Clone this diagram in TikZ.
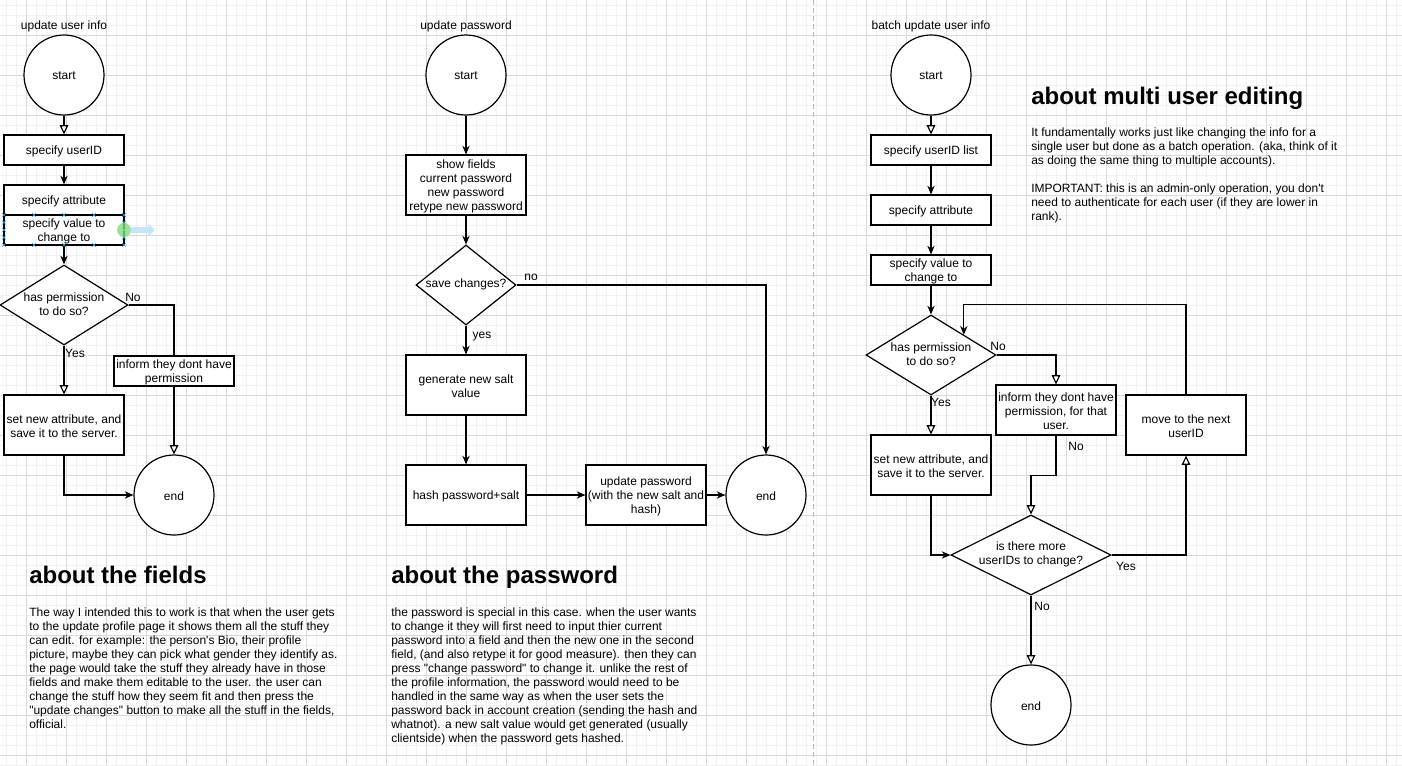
\documentclass[tikz,border=0pt]{standalone}
\usepackage{fontspec}
\setmainfont{Liberation Sans}[Ligatures=TeXOff]
\usetikzlibrary{shapes.geometric,arrows.meta,calc}
\pgfdeclarelayer{grid}
\pgfdeclarelayer{edges}
\pgfsetlayers{grid,edges,main}
\newcommand\PX{0.75pt}
\definecolor{gridmaj}{HTML}{DADADA}
\definecolor{gridmin}{HTML}{F2F2F2}
\definecolor{selblue}{HTML}{3AA0D8}
\definecolor{selgreen}{HTML}{7FDF7F}
\definecolor{sellight}{HTML}{C4E6F8}
\definecolor{sepgray}{HTML}{BBBBBB}
\begin{document}
\begin{tikzpicture}[x=0.75pt,y=-0.75pt,
  txt/.style={font=\fontsize{9}{10.5}\selectfont, align=center, inner sep=0pt},
  intext/.style={label={[txt,yshift=-0.8pt]center:#1}},
  diatext/.style={label={[txt,yshift=0.4pt]center:#1}},
  box/.style={draw, fill=white, line width=0.9pt, inner sep=0pt, minimum width=120*\PX},
  circ/.style={draw, fill=white, circle, minimum size=80*\PX, inner sep=0pt, line width=0.9pt},
  dia/.style={draw, fill=white, diamond, inner sep=0pt, line width=0.9pt},
  conn/.style={line width=0.9pt},
  sol/.style={conn, -{Stealth[length=6.5pt,width=5.5pt]}},
  hol/.style={conn, -{Triangle[open,length=7pt,width=6.5pt,fill=white]}},
  lbl/.style={font=\fontsize{9}{10.5}\selectfont, inner sep=0pt},
  para/.style={font=\fontsize{9}{10.5}\selectfont, align=left, anchor=north west, inner sep=0pt},
  head/.style={font=\fontsize{18}{21}\selectfont\bfseries, anchor=base west, inner sep=0pt},
]
\useasboundingbox (0,0) rectangle (1402,765);
\begin{pgfonlayer}{grid}
  \fill[white] (0,0) rectangle (1402,765);
  \foreach \x in {6,16,...,1396} \draw[gridmin, line width=0.5pt] (\x,0) -- (\x,765);
  \foreach \y in {5,15,...,765} \draw[gridmin, line width=0.5pt] (0,\y) -- (1402,\y);
  \foreach \x in {26,66,...,1386} \draw[gridmaj, line width=0.6pt] (\x,0) -- (\x,765);
  \foreach \y in {35,75,...,755} \draw[gridmaj, line width=0.6pt] (0,\y) -- (1402,\y);
  \draw[sepgray, line width=0.6pt, dash pattern=on 3.5pt off 2.5pt] (813,0) -- (813,765);
\end{pgfonlayer}

% ---------- column 1: update user info
\node[lbl] (t1) at (64,26.5) {update user info};
\node[circ, intext={start}] (start1) at (64,75) {};
\node[box, minimum height=30*\PX, intext={specify userID}] (uid1) at (64,150) {};
\node[box, minimum height=30*\PX, intext={specify attribute}] (attr1) at (64,200) {};
\node[box, minimum height=30*\PX, intext={specify value to\\change to}] (val1) at (64,230) {};
\node[dia, minimum width=128*\PX, minimum height=80*\PX, diatext={has permission\\to do so?}] (perm1) at (64,305) {};
\node[box, minimum height=30*\PX, intext={inform they dont have\\permission}] (inf1) at (174,371) {};
\node[box, minimum height=60*\PX, intext={set new attribute, and\\save it to the server.}] (set1) at (64,425) {};
\node[circ, intext={end}] (end1) at (174,495) {};
\node[lbl] (no1) at (133,297) {No};
\node[lbl] (yes1) at (75,353) {Yes};

% selection marks
\foreach \x in {4,34,64,94,124} {
  \draw[selblue, line width=0.5pt] (\x-2,213) -- (\x+2,217) (\x-2,217) -- (\x+2,213);
  \draw[selblue, line width=0.5pt] (\x-2,243) -- (\x+2,247) (\x-2,247) -- (\x+2,243);
}
\foreach \y in {222.5,230,237.5} {
  \draw[selblue, line width=0.5pt] (2,\y-2) -- (6,\y+2) (2,\y+2) -- (6,\y-2);
  \draw[selblue, line width=0.5pt] (122,\y-2) -- (126,\y+2) (122,\y+2) -- (126,\y-2);
}
\draw[sellight, line width=4pt, -{Triangle[length=5pt,width=9pt]}] (131,230) -- (155,230);
\fill[selgreen, opacity=0.8] (124,230) circle[radius=7];

% ---------- column 2: update password
\node[lbl] (t2) at (466,26.5) {update password};
\node[circ, intext={start}] (start2) at (466,75) {};
\node[box, minimum height=60*\PX, intext={show fields\\current password\\new password\\retype new password}] (fields) at (466,185) {};
\node[dia, minimum width=100*\PX, minimum height=80*\PX, diatext={save changes?}] (save) at (466,285) {};
\node[lbl] (no2) at (531,277) {no};
\node[lbl] (yes2) at (482,337) {yes};
\node[box, minimum height=60*\PX, intext={generate new salt\\value}] (salt) at (466,385) {};
\node[box, minimum height=60*\PX, intext={hash password+salt}] (hash) at (466,495) {};
\node[box, minimum height=60*\PX, intext={update password\\(with the new salt and\\hash)}] (upd) at (646,495) {};
\node[circ, intext={end}] (end2) at (766,495) {};

% ---------- column 3: batch update user info
\node[lbl] (t3) at (931,26.5) {batch update user info};
\node[circ, intext={start}] (start3) at (931,75) {};
\node[box, minimum height=30*\PX, intext={specify userID list}] (uid3) at (931,150) {};
\node[box, minimum height=30*\PX, intext={specify attribute}] (attr3) at (931,210) {};
\node[box, minimum height=30*\PX, intext={specify value to\\change to}] (val3) at (931,270) {};
\node[dia, minimum width=130*\PX, minimum height=80*\PX, diatext={has permission\\to do so?}] (perm3) at (931,355) {};
\node[lbl] (no3a) at (998,346) {No};
\node[box, minimum height=50*\PX, intext={inform they dont have\\permission, for that\\user.}] (inf3) at (1056,410) {};
\node[lbl] (yes3a) at (941,402) {Yes};
\node[box, minimum height=60*\PX, intext={set new attribute, and\\save it to the server.}] (set3) at (931,465) {};
\node[lbl] (no3b) at (1076,446) {No};
\node[dia, minimum width=160*\PX, minimum height=80*\PX, diatext={is there more\\userIDs to change?}] (more) at (1031,555) {};
\node[lbl] (yes3b) at (1126,566) {Yes};
\node[box, minimum height=60*\PX, intext={move to the next\\userID}] (mv) at (1186,425) {};
\node[lbl] (no3c) at (1042,606) {No};
\node[circ, intext={end}] (end3) at (1031,705) {};

% ---------- text blocks
\node[head] (h1) at (29,583) {about the fields};
\node[para] (p1) at (29,608) {The way I intended this to work is that when the user gets\\
to the update profile page it shows them all the stuff they\\
can edit. for example: the person's Bio, their profile\\
picture, maybe they can pick what gender they identify as.\\
the page would take the stuff they already have in those\\
fields and make them editable to the user. the user can\\
change the stuff how they seem fit and then press the\\
"update changes" button to make all the stuff in the fields,\\
official.};
\node[head] (h2) at (391,583) {about the password};
\node[para] (p2) at (391,608) {the password is special in this case. when the user wants\\
to change it they will first need to input thier current\\
password into a field and then the new one in the second\\
field, (and also retype it for good measure). then they can\\
press "change password" to change it. unlike the rest of\\
the profile information, the password would need to be\\
handled in the same way as when the user sets the\\
password back in account creation (sending the hash and\\
whatnot). a new salt value would get generated (usually\\
clientside) when the password gets hashed.};
\node[head] (h3) at (1031,104) {about multi user editing};
\node[para] (p3) at (1031,128) {It fundamentally works just like changing the info for a\\
single user but done as a batch operation. (aka, think of it\\
as doing the same thing to multiple accounts).\\
\mbox{}\\
IMPORTANT: this is an admin-only operation, you don't\\
need to authenticate for each user (if they are lower in\\
rank).};

% ---------- connectors
\coordinate (lp) at ($(perm3.north)!0.5!(perm3.east)+(0,-30)$);
\coordinate (w2) at ($(inf3.south)+(0,40)$);
\begin{pgfonlayer}{edges}
  \draw[hol] (start1) -- (uid1);
  \draw[sol] (uid1) -- (attr1);
  \draw[sol] (val1) -- (perm1);
  \draw[hol] (perm1.east) -| (end1.north);
  \draw[hol] (perm1.south) -- (set1.north);
  \draw[sol] (set1.south) |- (end1.west);

  \draw[sol] (start2) -- (fields);
  \draw[sol] (fields) -- (save);
  \draw[sol] (save.east) -| (end2.north);
  \draw[sol] (save.south) -- (salt.north);
  \draw[sol] (salt) -- (hash);
  \draw[sol] (hash) -- (upd);
  \draw[sol] (upd) -- (end2);

  \draw[hol] (start3) -- (uid3);
  \draw[sol] (uid3) -- (attr3);
  \draw[sol] (attr3) -- (val3);
  \draw[sol] (val3) -- (perm3);
  \draw[hol] (perm3.east) -| (inf3.north);
  \draw[hol] (perm3.south) -- (set3.north);
  \draw[hol] (inf3.south) -- (w2) -| (more.north);
  \draw[sol] (set3.south) |- (more.west);
  \draw[hol] (more.east) -| (mv.south);
  \draw[sol] (mv.north) |- (lp) -- ($(perm3.north)!0.5!(perm3.east)$);
  \draw[hol] (more.south) -- (end3.north);
\end{pgfonlayer}
\end{tikzpicture}
\end{document}
